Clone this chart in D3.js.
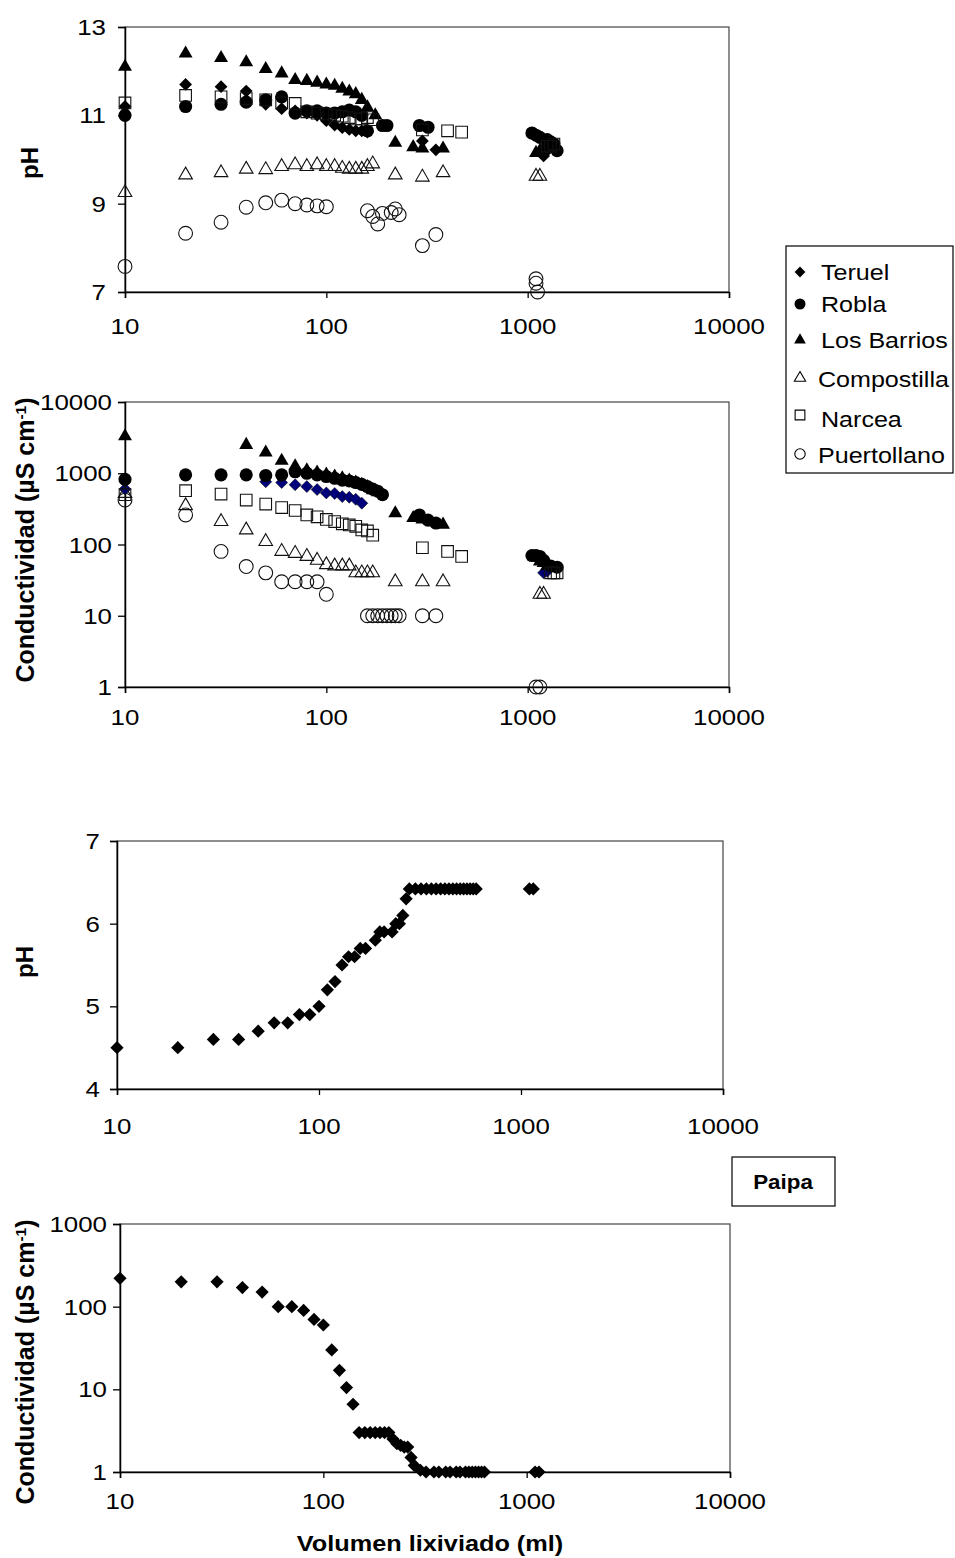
<!DOCTYPE html>
<html><head><meta charset="utf-8">
<script src="https://cdn.jsdelivr.net/npm/d3@7"></script>
<style>body{margin:0;background:#fff}svg{display:block}</style>
</head><body>
<svg id="c" width="955" height="1558"></svg>
<script>
// ---------------- DATA ----------------
const xTicks = [10, 100, 1000, 10000];
const seriesNames = ["Teruel", "Robla", "Los Barrios", "Compostilla", "Narcea", "Puertollano"];

// Panel 1: pH
const phTeruel = [[10,11.2],[20,11.7],[30,11.65],[40,11.55],[50,11.25],[60,11.15],[70,11.1],[80,11.05],[90,11.0],[100,10.88],[110,10.78],[120,10.72],[130,10.68],[140,10.65],[150,10.65],[160,10.62],[300,10.42],[350,10.22],[1200,10.08],[1250,10.2]];
const phRobla = [[10,11.0],[20,11.2],[30,11.25],[40,11.3],[50,11.35],[60,11.42],[70,11.05],[80,11.1],[90,11.1],[100,11.05],[110,11.05],[120,11.08],[130,11.12],[140,11.08],[150,11.0],[160,10.65],[190,10.77],[200,10.77],[290,10.77],[320,10.73],[1050,10.6],[1100,10.55],[1150,10.5],[1250,10.45],[1300,10.4],[1350,10.35],[1400,10.2]];
const phBarrios = [[10,12.1],[20,12.4],[30,12.3],[40,12.2],[50,12.05],[60,11.95],[70,11.8],[80,11.78],[90,11.74],[100,11.7],[110,11.67],[120,11.6],[130,11.54],[140,11.48],[150,11.35],[160,11.18],[175,11.0],[220,10.38],[270,10.28],[300,10.25],[380,10.25],[1100,10.15],[1150,10.2],[1200,10.25]];
const phCompostilla = [[10,9.25],[20,9.65],[30,9.7],[40,9.78],[50,9.77],[60,9.84],[70,9.88],[80,9.84],[90,9.88],[100,9.84],[110,9.84],[120,9.8],[130,9.78],[140,9.78],[150,9.78],[160,9.84],[170,9.9],[220,9.65],[300,9.6],[380,9.7],[1100,9.62],[1150,9.62]];
const phNarcea = [[10,11.28],[20,11.45],[30,11.42],[40,11.38],[50,11.35],[60,11.28],[70,11.27],[80,11.08],[90,11.05],[100,11.03],[110,11.0],[120,10.98],[130,10.95],[140,10.92],[150,10.92],[160,10.95],[170,10.9],[300,10.67],[400,10.65],[470,10.62],[1250,10.3],[1300,10.3],[1350,10.35]];
const phPuertollano = [[10,7.58],[20,8.33],[30,8.58],[40,8.92],[50,9.02],[60,9.08],[70,9.0],[80,8.97],[90,8.95],[100,8.93],[160,8.84],[170,8.71],[180,8.54],[190,8.78],[210,8.8],[220,8.88],[230,8.75],[300,8.05],[350,8.3],[1100,7.3],[1100,7.2],[1120,7.0]];

// Panel 2: Conductividad
const ceTeruel = [[10,600],[50,760],[60,740],[70,690],[80,650],[90,590],[100,530],[110,520],[120,470],[130,460],[140,430],[150,380],[1200,40],[1250,42]];
const ceRobla = [[10,820],[20,950],[30,950],[40,950],[50,930],[60,950],[70,1050],[80,1000],[90,950],[100,900],[110,850],[120,800],[130,780],[140,740],[150,700],[160,650],[170,600],[180,560],[190,500],[290,260],[320,220],[350,200],[1050,70],[1100,70],[1150,68],[1200,60],[1300,50],[1400,48]];
const ceBarrios = [[10,3300],[40,2500],[50,1950],[60,1500],[70,1250],[80,1100],[90,1020],[100,960],[110,900],[120,850],[130,790],[140,740],[150,690],[160,640],[170,580],[180,540],[220,275],[270,235],[300,225],[380,190],[1150,58],[1200,55],[1250,50]];
const ceCompostilla = [[10,520],[20,350],[30,210],[40,160],[50,110],[60,80],[70,75],[80,68],[90,60],[100,52],[110,50],[120,50],[130,50],[140,40],[150,40],[160,40],[170,40],[220,30],[300,30],[380,30],[1150,20],[1200,20]];
const ceNarcea = [[10,500],[20,570],[30,510],[40,420],[50,370],[60,330],[70,300],[80,260],[90,245],[100,225],[110,210],[120,195],[130,188],[140,180],[150,160],[160,155],[170,135],[300,90],[400,80],[470,68],[1300,40],[1350,40],[1400,40]];
const cePuertollano = [[10,420],[20,260],[30,80],[40,49],[50,40],[60,30],[70,30],[80,30],[90,30],[100,20],[160,10],[170,10],[180,10],[190,10],[200,10],[210,10],[220,10],[230,10],[300,10],[350,10],[1100,1],[1150,1]];

// Panel 3: Paipa pH
const paipaPH = [[10,4.5],[20,4.5],[30,4.6],[40,4.6],[50,4.7],[60,4.8],[70,4.8],[80,4.9],[90,4.9],[100,5.0],[110,5.2],[120,5.3],[130,5.5],[140,5.6],[150,5.6],[160,5.7],[170,5.7],[190,5.8],[200,5.9],[210,5.9],[230,5.9],[240,6.0],[250,6.0],[260,6.1],[270,6.3],[280,6.42],[300,6.42],[320,6.42],[340,6.42],[360,6.42],[380,6.42],[400,6.42],[420,6.42],[440,6.42],[460,6.42],[480,6.42],[500,6.42],[520,6.42],[540,6.42],[560,6.42],[580,6.42],[600,6.42],[1100,6.42],[1150,6.42]];

// Panel 4: Paipa conductividad
const paipaCE = [[10,220],[20,200],[30,200],[40,170],[50,150],[60,100],[70,100],[80,90],[90,70],[100,60],[110,30],[120,17],[130,10.5],[140,6.6],[150,3],[160,3],[170,3],[180,3],[190,3],[200,3],[210,3],[220,2.5],[230,2.2],[240,2.1],[250,2.0],[260,2.0],[270,1.5],[280,1.2],[300,1.05],[320,1],[350,1],[370,1],[400,1],[420,1],[450,1],[470,1],[500,1],[520,1],[540,1],[560,1],[580,1],[600,1],[620,1],[1100,1],[1150,1]];

const phTicks1 = [7, 9, 11, 13];
const ceTicks1 = [1, 10, 100, 1000, 10000];
const phTicks2 = [4, 5, 6, 7];
const ceTicks2 = [1, 10, 100, 1000];

// ---------------- RENDERING ----------------
const FONT = "'Liberation Sans', Arial, Helvetica, sans-serif";
const SX = 1.15;
const svg = d3.select("#c");

function stext(g, x, y, str, o) {
  o = o || {};
  return g.append("text")
    .attr("transform", `translate(${x},${y}) scale(${o.sx || SX},1)`)
    .attr("text-anchor", o.anchor || "start")
    .attr("font-family", FONT)
    .attr("font-size", o.size || 22.5)
    .attr("font-weight", o.bold ? "bold" : "normal")
    .attr("fill", "#000")
    .text(str);
}

function diamondPath(r) { return `M0,${-r}L${r},0L0,${r}L${-r},0Z`; }
function shape(type, s) {
  if (type === "diamond") return diamondPath(s);
  const t = {circle: d3.symbolCircle, triangle: d3.symbolTriangle, square: d3.symbolSquare}[type];
  return d3.symbol().type(t).size(s)();
}

const styles = [
  {type: "diamond", size: 6.4, fill: "#000", stroke: "none"},
  {type: "circle", size: 135, fill: "#000", stroke: "none"},
  {type: "triangle", size: 84, fill: "#000", stroke: "none"},
  {type: "triangle", size: 80, fill: "none", stroke: "#111", sw: 1.1},
  {type: "square", size: 135, fill: "none", stroke: "#111", sw: 1.1},
  {type: "circle", size: 150, fill: "none", stroke: "#111", sw: 1.1}
];

function panel(cfg) {
  const g = svg.append("g");
  const x = d3.scaleLog().domain([10, 10000]).range([cfg.x0, cfg.x1]);
  const y = (cfg.log ? d3.scaleLog() : d3.scaleLinear()).domain(cfg.yDomain).range([cfg.yBot, cfg.yTop]);
  g.append("rect").attr("x", cfg.x0).attr("y", cfg.yTop).attr("width", cfg.x1 - cfg.x0).attr("height", cfg.yBot - cfg.yTop)
    .attr("fill", "none").attr("stroke", "#444").attr("stroke-width", 1.2);
  const ax = g.append("g").attr("transform", `translate(0,${cfg.yBot})`)
    .call(d3.axisBottom(x).tickValues(xTicks).tickSize(6).tickFormat(""));
  const ay = g.append("g").attr("transform", `translate(${cfg.x0},0)`)
    .call(d3.axisLeft(y).tickValues(cfg.yTicks).tickSize(7).tickFormat(""));
  [ax, ay].forEach(a => { a.select(".domain").attr("stroke", "#000").attr("stroke-width", 1.5); a.selectAll(".tick line").attr("stroke", "#000").attr("stroke-width", 1.3); });
  xTicks.forEach(v => stext(g, x(v), cfg.xLabelY, String(v), {anchor: "middle"}));
  cfg.yTicks.forEach(v => stext(g, cfg.yLabelX, y(v) + 8, String(v), {anchor: "end"}));
  const t = g.append("text").attr("transform", `translate(${cfg.titleX},${cfg.titleY}) rotate(-90)`)
    .attr("text-anchor", "middle").attr("font-family", FONT).attr("font-weight", "bold")
    .attr("font-size", cfg.titleSize).attr("dy", "0.35em");
  if (cfg.cond) {
    t.append("tspan").text("Conductividad (µS cm");
    t.append("tspan").attr("font-size", cfg.titleSize * 0.62).attr("baseline-shift", "super").text("-1");
    t.append("tspan").text(")");
  } else t.text("pH");
  cfg.series.forEach((data, i) => {
    const st = cfg.styles[i];
    g.append("g").selectAll("path").data(data).join("path")
      .attr("transform", d => `translate(${x(d[0])},${y(d[1])})`)
      .attr("d", shape(st.type, st.size))
      .attr("fill", st.fill).attr("stroke", st.stroke)
      .attr("stroke-width", st.sw || 1);
  });
  return {x, y};
}

panel({x0: 125, x1: 729, yTop: 27, yBot: 292, log: false, yDomain: [7, 13], yTicks: phTicks1,
  yLabelX: 106, xLabelY: 334, titleX: 30, titleY: 163, titleSize: 24,
  series: [phTeruel, phRobla, phBarrios, phCompostilla, phNarcea, phPuertollano], styles: styles});

const styles2 = styles.slice();
styles2[0] = {type: "diamond", size: 6, fill: "#00007a", stroke: "#000", sw: 0.5};
panel({x0: 125, x1: 729, yTop: 402, yBot: 687, log: true, yDomain: [1, 10000], yTicks: ceTicks1,
  yLabelX: 112, xLabelY: 725, titleX: 25, titleY: 540, titleSize: 25, cond: true,
  series: [ceTeruel, ceRobla, ceBarrios, ceCompostilla, ceNarcea, cePuertollano], styles: styles2});

const pStyle = [{type: "diamond", size: 6.6, fill: "#000", stroke: "none"}];
panel({x0: 117, x1: 723, yTop: 841, yBot: 1089, log: false, yDomain: [4, 7], yTicks: phTicks2,
  yLabelX: 100, xLabelY: 1134, titleX: 25, titleY: 962, titleSize: 24,
  series: [paipaPH], styles: pStyle});

panel({x0: 120, x1: 730, yTop: 1224, yBot: 1472, log: true, yDomain: [1, 1000], yTicks: ceTicks2,
  yLabelX: 107, xLabelY: 1509, titleX: 25, titleY: 1362, titleSize: 25, cond: true,
  series: [paipaCE], styles: pStyle});

stext(svg, 430, 1551, "Volumen lixiviado (ml)", {anchor: "middle", bold: true, size: 22});

// legend
const lg = svg.append("g");
lg.append("rect").attr("x", 786).attr("y", 246).attr("width", 167).attr("height", 227)
  .attr("fill", "#fff").attr("stroke", "#000").attr("stroke-width", 1.2);
const legStyles = [
  {type: "diamond", size: 5.4, fill: "#000", stroke: "none"},
  {type: "circle", size: 95, fill: "#000", stroke: "none"},
  {type: "triangle", size: 60, fill: "#000", stroke: "none"},
  {type: "triangle", size: 55, fill: "none", stroke: "#000"},
  {type: "square", size: 95, fill: "none", stroke: "#000"},
  {type: "circle", size: 85, fill: "none", stroke: "#000"}
];
const legSymY = [272, 304, 340, 378, 415, 454];
const legTextY = [280, 312, 348, 387, 427, 463];
const legTextX = [821, 821, 821, 818, 821, 818];
seriesNames.forEach((n, i) => {
  const st = legStyles[i];
  lg.append("path").attr("transform", `translate(800,${legSymY[i]})`).attr("d", shape(st.type, st.size))
    .attr("fill", st.fill).attr("stroke", st.stroke).attr("stroke-width", 1.1);
  stext(lg, legTextX[i], legTextY[i], n, {size: 22, sx: 1.14});
});

// Paipa box
svg.append("rect").attr("x", 732).attr("y", 1157).attr("width", 103).attr("height", 49)
  .attr("fill", "#fff").attr("stroke", "#000").attr("stroke-width", 1.2);
stext(svg, 783, 1189, "Paipa", {anchor: "middle", bold: true, size: 20, sx: 1.12});
</script>
</body></html>
